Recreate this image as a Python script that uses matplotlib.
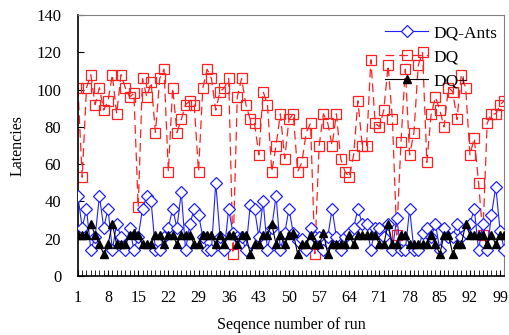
import numpy as np
import matplotlib
matplotlib.use("Agg")
import matplotlib.pyplot as plt

plt.rcParams['font.family'] = ['Liberation Serif', 'DejaVu Serif']

# run numbers
runs = list(range(1, 101))

dq_ants = [43, 26, 36, 14, 21, 43, 26, 36, 14, 28,
           21, 14, 26, 14, 21, 36, 43, 40, 14, 14,
           21, 26, 36, 26, 45, 14, 28, 36, 33, 21,
           14, 14, 50, 21, 14, 36, 23, 21, 21, 14,
           38, 36, 21, 40, 14, 26, 43, 14, 23, 36,
           23, 19, 20, 14, 26, 21, 21, 14, 21, 36,
           21, 14, 21, 23, 26, 36, 28, 28, 14, 26,
           26, 21, 28, 14, 31, 14, 14, 36, 14, 14,
           23, 26, 21, 28, 14, 26, 21, 21, 28, 21,
           23, 28, 36, 14, 28, 14, 33, 48, 24, 14]

dq = [101, 53, 101, 108, 92, 101, 89, 94, 108, 87,
      108, 101, 96, 98, 37, 106, 96, 104, 77, 106,
      111, 56, 101, 77, 84, 92, 94, 92, 56, 101,
      111, 106, 89, 99, 101, 106, 12, 96, 106, 92,
      84, 82, 65, 99, 92, 56, 70, 87, 63, 84,
      87, 56, 61, 77, 82, 12, 70, 87, 82, 70,
      87, 63, 56, 53, 65, 94, 70, 70, 116, 82,
      80, 89, 113, 84, 22, 72, 111, 65, 77, 113,
      120, 61, 87, 96, 89, 80, 101, 99, 84, 108,
      101, 65, 74, 50, 22, 82, 87, 87, 92, 94]

dq_plus = [22, 22, 22, 28, 22, 17, 12, 17, 28, 17,
           17, 17, 22, 23, 22, 17, 17, 17, 22, 22,
           17, 22, 22, 17, 22, 22, 22, 17, 17, 22,
           22, 22, 17, 22, 17, 22, 22, 17, 22, 22,
           12, 17, 17, 22, 22, 28, 17, 22, 17, 22,
           23, 12, 17, 17, 22, 17, 17, 23, 12, 17,
           17, 17, 17, 22, 17, 22, 22, 22, 22, 22,
           17, 17, 28, 17, 17, 22, 22, 17, 17, 17,
           17, 17, 22, 17, 12, 22, 22, 12, 17, 17,
           28, 22, 22, 22, 22, 17, 22, 17, 22, 22]

xtick_labels = [1, 8, 15, 22, 29, 36, 43, 50, 57, 64, 71, 78, 85, 92, 99]

fig = plt.figure(figsize=(5.09, 3.35), dpi=100)
ax = fig.add_axes([0.153, 0.176, 0.838, 0.779])

ax.plot(runs, dq_ants, color="#2020ff", lw=0.8, marker="D", ms=5.8,
        mfc="white", mec="#2020ff", mew=0.9, label="DQ-Ants", zorder=3)
ax.plot(runs, dq, color="#ff2020", lw=0.9, ls=(0, (7, 4)), marker="s", ms=7.2,
        mfc="none", mec="#ff2020", mew=0.9, label="DQ", zorder=2)
ax.plot(runs, dq_plus, color="black", lw=0.8, marker="^", ms=5.8,
        mfc="black", mec="black", label="DQ+", zorder=4)

ax.set_xlim(1, 100)
ax.set_ylim(0, 140)
ax.set_yticks(np.arange(0, 141, 20))
ax.set_xticks(runs, minor=True)
ax.set_xticks(xtick_labels)
ax.set_xticklabels([str(v) for v in xtick_labels])
ax.tick_params(axis="y", direction="in", length=4, labelsize=12, pad=12)
ax.tick_params(axis="x", which="both", direction="in", length=4, labelsize=11.5, pad=10)

for side in ["top", "right"]:
    ax.spines[side].set_color("#808080")
ax.spines["left"].set_linewidth(1.2)
ax.spines["bottom"].set_linewidth(1.2)

ax.set_xlabel("Seqence number of run", fontsize=11.5, labelpad=8)
ax.set_ylabel("Latencies", fontsize=11.5, labelpad=8)

ax.legend(loc="upper left", frameon=False, fontsize=12.5, handlelength=2.5,
          handletextpad=0.3, bbox_to_anchor=(0.712, 0.975), labelspacing=0.45,
          borderaxespad=0.0, borderpad=0.2)

fig.savefig("out.png", dpi=100)
